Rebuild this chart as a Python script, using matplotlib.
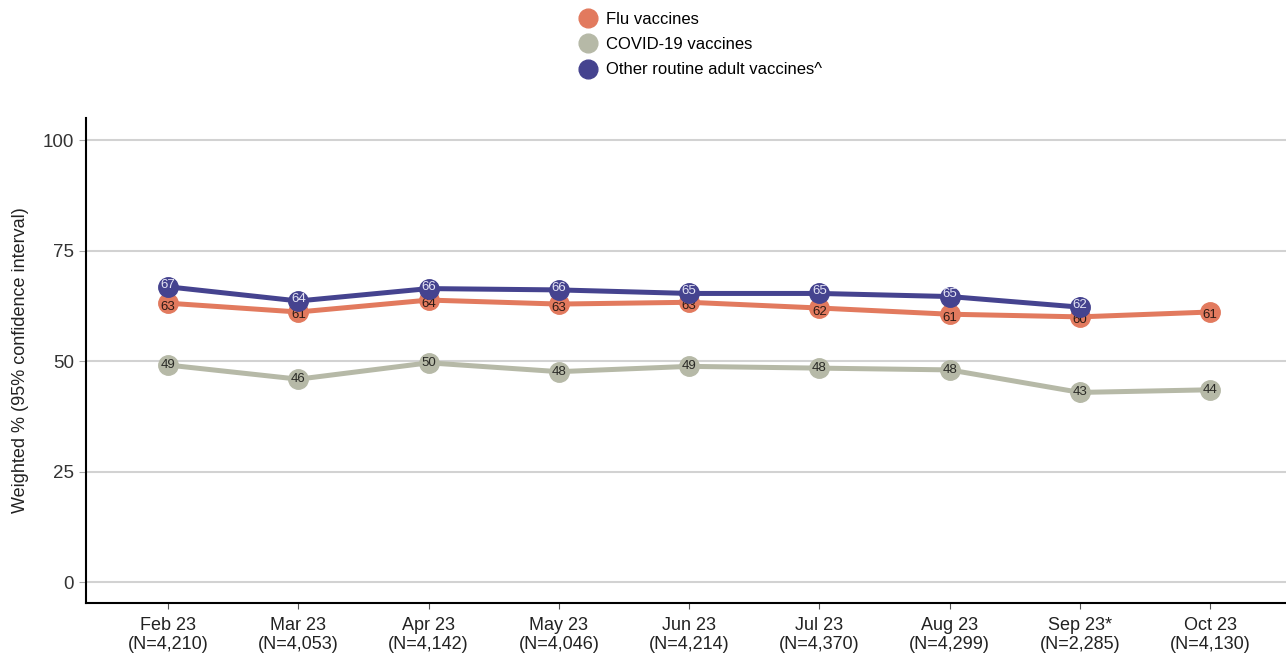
import matplotlib.pyplot as plt
from matplotlib.lines import Line2D
import numpy as np

plt.rcParams['font.family'] = ['Liberation Sans', 'DejaVu Sans']

months = ['Feb 23', 'Mar 23', 'Apr 23', 'May 23', 'Jun 23', 'Jul 23', 'Aug 23', 'Sep 23*', 'Oct 23']
sample_sizes = ['4,210', '4,053', '4,142', '4,046', '4,214', '4,370', '4,299', '2,285', '4,130']

flu = [63.1, 61.1, 63.8, 62.9, 63.3, 62.0, 60.6, 60.0, 61.1]
flu_ci = [1.0, 1.0, 1.0, 1.0, 1.0, 1.0, 1.0, 2.0, 1.0]
covid = [49.1, 45.9, 49.6, 47.6, 48.8, 48.4, 48.0, 42.9, 43.5]
covid_ci = [1.0, 1.0, 1.0, 1.0, 1.0, 1.0, 1.0, 2.4, 1.0]
other = [66.8, 63.6, 66.4, 66.1, 65.3, 65.3, 64.6, 62.2]
other_ci = [1.0, 1.0, 1.0, 1.0, 1.0, 1.0, 1.0, 2.2]

# name, values, CI half-width, colour, label colour, label nudge (points)
series = [
    ('Flu vaccines', flu, flu_ci, '#E27A5E', '#2b1a14', -2.5),
    ('COVID-19 vaccines', covid, covid_ci, '#B6B9A7', '#2a2a26', 0),
    ('Other routine adult vaccines^', other, other_ci, '#45438F', '#e4e4f4', 1.5),
]

fig = plt.figure(figsize=(12.86, 6.63), dpi=100)
ax = fig.add_axes([0.0669, 0.0905, 0.933, 0.7315])

for k, (name, vals, ci, color, txt, dy) in enumerate(series):
    x = np.arange(len(vals))
    z = 3 + 2 * k
    ax.errorbar(x, vals, yerr=ci, fmt='none', ecolor=color, elinewidth=1.2, zorder=2)
    ax.plot(x, vals, color=color, lw=3.6, marker='o', ms=14, mec=color, zorder=z)
    for xi, v in zip(x, vals):
        ax.annotate(f'{v:.0f}', (xi, v), xytext=(0, dy), textcoords='offset points',
                    ha='center', va='center', fontsize=9.5, color=txt, zorder=z + 1)

ax.set_xlim(-0.63, 8.58)
ax.set_ylim(-4.75, 105)
ax.set_yticks([0, 25, 50, 75, 100])
ax.set_xticks(np.arange(len(months)))
ax.set_xticklabels([f'{m}\n(N={n})' for m, n in zip(months, sample_sizes)], fontsize=13, color='#222222', linespacing=1.2)
ax.tick_params(axis='y', labelsize=13.5, labelcolor='#333333', color='#aaaaaa', length=5)
ax.tick_params(axis='x', color='#555555', length=4, pad=6)
ax.yaxis.grid(True, color='#d2d2d2', lw=1.5)
ax.set_axisbelow(True)
for side in ['top', 'right']:
    ax.spines[side].set_visible(False)
for side in ['left', 'bottom']:
    ax.spines[side].set_linewidth(1.5)
    ax.spines[side].set_color('black')
ax.set_ylabel('Weighted % (95% confidence interval)', fontsize=13, color='#222222', labelpad=10)

handles = [Line2D([], [], ls='none', marker='o', ms=13.5, color=s[3], mec=s[3]) for s in series]
fig.legend(handles, [s[0] for s in series], loc='upper left', bbox_to_anchor=(0.435, 1.005),
           frameon=False, fontsize=12, handletextpad=0.3, labelspacing=0.62, handlelength=1.6)

fig.savefig('out.png', dpi=100)
